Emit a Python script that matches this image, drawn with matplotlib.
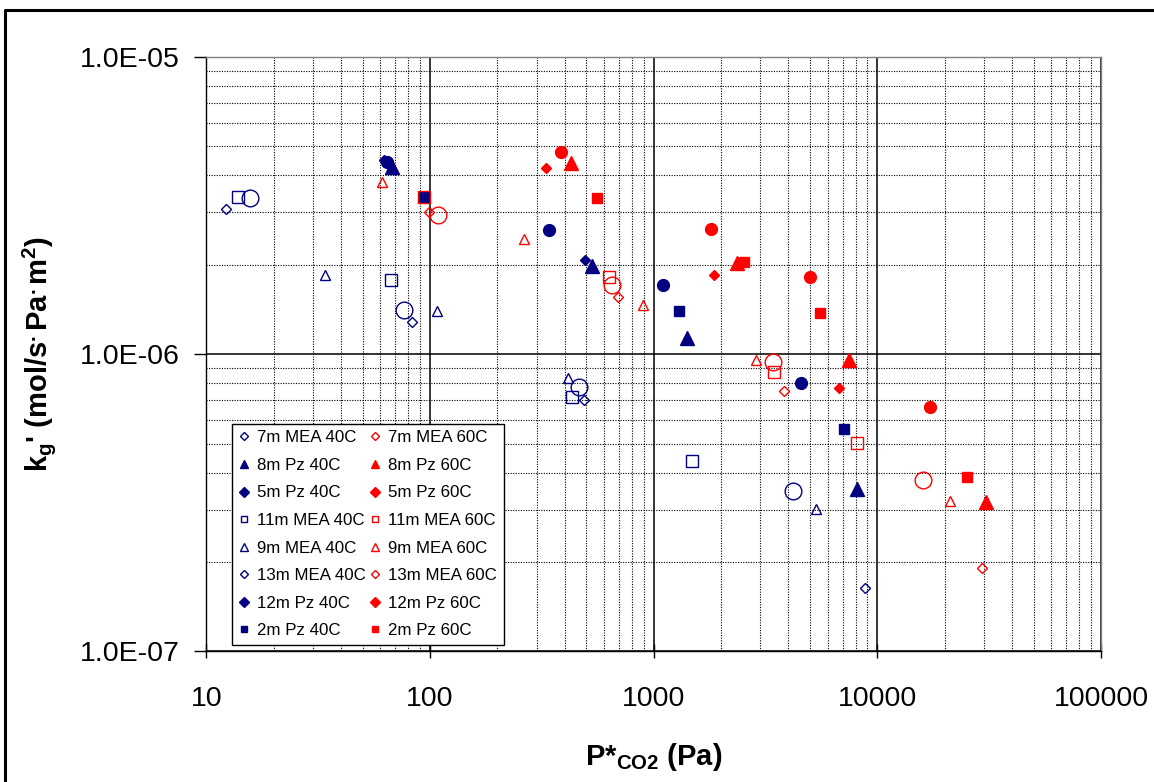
import matplotlib
matplotlib.use("Agg")
import matplotlib.pyplot as plt
import matplotlib.ticker as mticker
from matplotlib.lines import Line2D

plt.rcParams["font.family"] = ["Liberation Sans", "DejaVu Sans"]
plt.rcParams["mathtext.fontset"] = "custom"
plt.rcParams["mathtext.rm"] = "Liberation Sans"
plt.rcParams["mathtext.bf"] = "Liberation Sans:bold"
plt.rcParams["mathtext.default"] = "bf"

# P*CO2 (Pa) and kg' (mol/s.Pa.m2) for each series
mea7_40_x = [15.6, 76.7, 464, 4183]
mea7_40_y = [3.36e-6, 1.41e-6, 7.76e-7, 3.48e-7]
mea7_60_x = [108.8, 649, 3405, 15960]
mea7_60_y = [2.94e-6, 1.71e-6, 9.42e-7, 3.77e-7]

pz8_40_x = [67.5, 528, 1405, 8141]
pz8_40_y = [4.26e-6, 1.98e-6, 1.13e-6, 3.51e-7]
pz8_60_x = [427, 2358, 7473, 30620]
pz8_60_y = [4.39e-6, 2.03e-6, 9.6e-7, 3.18e-7]

pz5_40_x = [64, 341, 1104, 4560]
pz5_40_y = [4.43e-6, 2.61e-6, 1.71e-6, 8.0e-7]
pz5_60_x = [385, 1799, 5000, 17205]
pz5_60_y = [4.80e-6, 2.64e-6, 1.82e-6, 6.65e-7]

mea11_40_x = [13.9, 66.7, 430, 1488]
mea11_40_y = [3.39e-6, 1.78e-6, 7.18e-7, 4.36e-7]
mea11_60_x = [94.2, 633, 3450, 8090]
mea11_60_y = [3.37e-6, 1.82e-6, 8.72e-7, 5.03e-7]

mea9_40_x = [33.9, 107.4, 412, 5303]
mea9_40_y = [1.85e-6, 1.40e-6, 8.34e-7, 3.02e-7]
mea9_60_x = [61.1, 263, 893, 2868, 21130]
mea9_60_y = [3.80e-6, 2.45e-6, 1.46e-6, 9.6e-7, 3.22e-7]

mea13_40_x = [12.2, 83.2, 488, 8810]
mea13_40_y = [3.08e-6, 1.28e-6, 7.0e-7, 1.63e-7]
mea13_60_x = [99.2, 694, 3837, 29480]
mea13_60_y = [3.0e-6, 1.56e-6, 7.52e-7, 1.91e-7]

pz12_40_x = [62, 493]
pz12_40_y = [4.5e-6, 2.07e-6]
pz12_60_x = [329, 1866, 6742]
pz12_60_y = [4.22e-6, 1.85e-6, 7.7e-7]

pz2_40_x = [94.2, 1297, 7096]
pz2_40_y = [3.37e-6, 1.40e-6, 5.62e-7]
pz2_60_x = [556, 2535, 5546, 25120]
pz2_60_y = [3.36e-6, 2.04e-6, 1.38e-6, 3.86e-7]

labels_40 = ["7m MEA 40C", "8m Pz 40C", "5m Pz 40C", "11m MEA 40C",
             "9m MEA 40C", "13m MEA 40C", "12m Pz 40C", "2m Pz 40C"]
labels_60 = ["7m MEA 60C", "8m Pz 60C", "5m Pz 60C", "11m MEA 60C",
             "9m MEA 60C", "13m MEA 60C", "12m Pz 60C", "2m Pz 60C"]

NAVY = "#000080"
RED = "#ff0000"

# (marker, size, filled) as plotted, and marker used in the legend
styles = [
    ("o", 12, False, "D", 4.2),
    ("^", 9.5, True, "^", 6),
    ("o", 8.5, True, "D", 4.8),
    ("s", 8, False, "s", 5),
    ("^", 7.5, False, "^", 5.5),
    ("D", 5, False, "D", 4.2),
    ("D", 5.6, True, "D", 4.8),
    ("s", 6.8, True, "s", 5),
]

series_40 = [(mea7_40_x, mea7_40_y), (pz8_40_x, pz8_40_y), (pz5_40_x, pz5_40_y),
             (mea11_40_x, mea11_40_y), (mea9_40_x, mea9_40_y), (mea13_40_x, mea13_40_y),
             (pz12_40_x, pz12_40_y), (pz2_40_x, pz2_40_y)]
series_60 = [(mea7_60_x, mea7_60_y), (pz8_60_x, pz8_60_y), (pz5_60_x, pz5_60_y),
             (mea11_60_x, mea11_60_y), (mea9_60_x, mea9_60_y), (mea13_60_x, mea13_60_y),
             (pz12_60_x, pz12_60_y), (pz2_60_x, pz2_60_y)]

fig = plt.figure(figsize=(11.54, 7.82), dpi=100)
ax = fig.add_axes([0.1789, 0.1669, 0.7752, 0.7602])
ax.set_xscale("log")
ax.set_yscale("log")
ax.set_xlim(10, 100000)
ax.set_ylim(1e-7, 1e-5)

handles = []
for color, series, labels in [(NAVY, series_40, labels_40), (RED, series_60, labels_60)]:
    for (xs, ys), lab, (mk, ms, filled, lmk, lms) in zip(series, labels, styles):
        face = color if filled else "none"
        ax.plot(xs, ys, linestyle="none", marker=mk, markersize=ms,
                markerfacecolor=face, markeredgecolor=color, markeredgewidth=1.0, zorder=3)
        handles.append(Line2D([0], [0], linestyle="none", marker=lmk, markersize=lms,
                              markerfacecolor=face, markeredgecolor=color,
                              markeredgewidth=1.0, label=lab))

# gridlines
ax.xaxis.set_minor_locator(mticker.LogLocator(base=10, subs=range(2, 10), numticks=20))
ax.yaxis.set_minor_locator(mticker.LogLocator(base=10, subs=range(2, 10), numticks=20))
ax.grid(which="major", color="black", linewidth=1.1, linestyle="-")
ax.grid(which="minor", color="black", linewidth=0.8, linestyle=(0, (1, 1.3)))
ax.set_axisbelow(True)

ax.xaxis.set_major_formatter(mticker.FuncFormatter(lambda v, p: f"{v:.0f}"))
ax.yaxis.set_major_formatter(mticker.FuncFormatter(lambda v, p: f"{v:.1E}"))
ax.xaxis.set_minor_formatter(mticker.NullFormatter())
ax.yaxis.set_minor_formatter(mticker.NullFormatter())
ax.tick_params(axis="y", which="major", direction="out", length=8.6, width=1.0,
               pad=10.5, labelsize=20.5)
ax.tick_params(axis="x", which="major", direction="inout", length=10, width=1.0,
               pad=20, labelsize=20.5)
ax.tick_params(which="minor", length=0)

for side in ["top", "right"]:
    ax.spines[side].set_color("#808080")
    ax.spines[side].set_linewidth(1.0)
for side in ["left", "bottom"]:
    ax.spines[side].set_color("black")
    ax.spines[side].set_linewidth(1.0)

ax.set_xlabel(r"P*$_{CO2}$ (Pa)", fontsize=21, fontweight="bold", labelpad=21)
ax.set_ylabel(r"k$_g$' (mol/s$^{.}$Pa$^{.}$m$^2$)", fontsize=21, fontweight="bold", labelpad=16)

leg = ax.legend(handles=handles, ncol=2, loc="lower left", bbox_to_anchor=(0.0285, 0.011),
                borderaxespad=0, fontsize=12.2, frameon=True, fancybox=False,
                edgecolor="black", framealpha=1, labelspacing=0.74, handlelength=0.6,
                handletextpad=0.45, columnspacing=0.3, borderpad=0.4)
leg.get_frame().set_linewidth(1.0)
leg.set_zorder(5)

# chart area border (left and top edges visible)
fig.add_artist(Line2D([0.0043, 0.0043, 1.0], [0.0, 0.9872, 0.9872],
                      transform=fig.transFigure, color="black", linewidth=2.2))

fig.savefig("out.png", dpi=100)
